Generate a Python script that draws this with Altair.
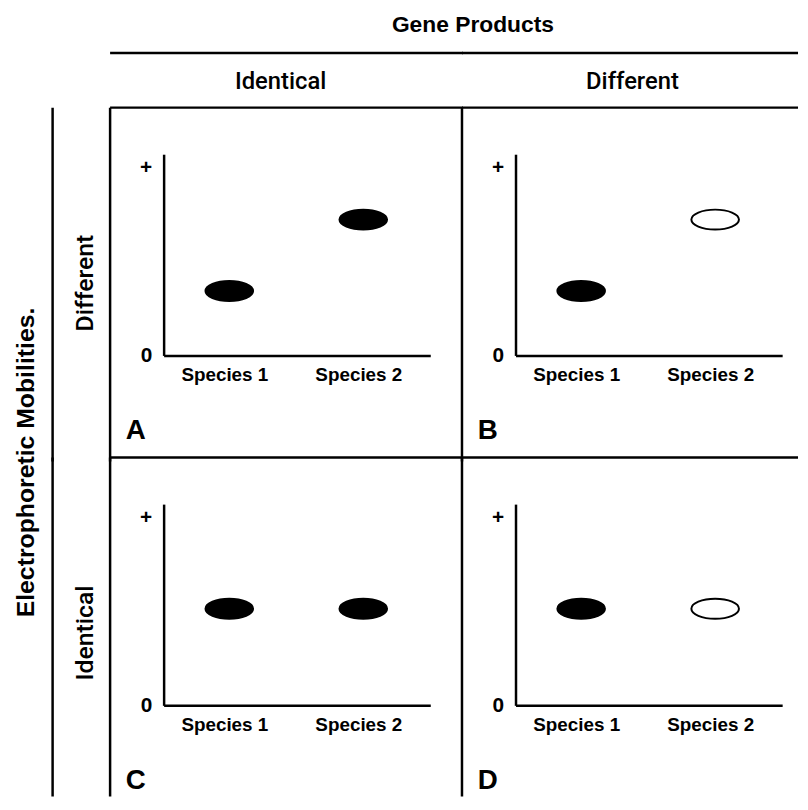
import altair as alt
import pandas as pd

# ---- data ----
panels = ["A", "A", "B", "B", "C", "C", "D", "D"]
mobility = ["Different", "Different", "Different", "Different",
            "Identical", "Identical", "Identical", "Identical"]
product = ["Identical", "Identical", "Different", "Different",
           "Identical", "Identical", "Different", "Different"]
species = [1, 2, 1, 2, 1, 2, 1, 2]
position = [0.32, 0.675, 0.32, 0.675, 0.48, 0.48, 0.48, 0.48]
band = ["filled", "filled", "filled", "open", "filled", "filled", "filled", "open"]

row_order = ["Different", "Identical"]
col_order = ["Identical", "Different"]
x_ticks = [1, 2]
y_ticks = [0, 0.935]
column_title = "Gene Products"
row_title = "Electrophoretic Mobilities."

df = pd.DataFrame({
    "panel": panels, "mobility": mobility, "product": product,
    "species": species, "position": position, "band": band,
})

FONT = "Liberation Sans, Arial, sans-serif"
HFONT = "Roboto, Liberation Sans, sans-serif"
W, H = 269, 203
LW = 2.5
ELLIPSE = ("M-1,0C-1,-0.232,-0.552,-0.42,0,-0.42C0.552,-0.42,1,-0.232,1,0"
           "C1,0.232,0.552,0.42,0,0.42C-0.552,0.42,-1,0.232,-1,0Z")

x_enc = alt.X("species:Q", scale=alt.Scale(domain=[0.51, 2.5]),
              axis=alt.Axis(values=x_ticks, labelExpr="'Species ' + datum.value",
                            title=None, grid=False, ticks=False, tickSize=0,
                            domainColor="black", domainWidth=LW,
                            labelFont=FONT, labelFontSize=19, labelFontWeight="bold",
                            labelColor="black", labelPadding=10, labelOffset=-5,
                            labelFlush=False, labelOverlap=False))
y_enc = alt.Y("position:Q", scale=alt.Scale(domain=[0, 1]),
              axis=alt.Axis(values=y_ticks, labelExpr="datum.value > 0.5 ? '+' : '0'",
                            title=None, grid=False, ticks=False, tickSize=0,
                            domainColor="black", domainWidth=LW,
                            labelFont=FONT, labelFontSize=21, labelFontWeight="bold",
                            labelColor="black", labelPadding=12, labelOverlap=False))

bands = alt.Chart().mark_point(shape=ELLIPSE, size=2304, filled=True, opacity=1,
                               stroke="black", strokeWidth=2).encode(
    x=x_enc, y=y_enc,
    fill=alt.Fill("band:N", scale=alt.Scale(domain=["filled", "open"], range=["black", "white"]),
                  legend=None),
)

def vrule(x, y1, y2, filt):
    return alt.Chart().transform_filter(filt).mark_rule(color="black", strokeWidth=LW).encode(
        x=alt.value(x), y=alt.value(y1), y2=alt.value(y2))

def hrule(y, x1, x2, filt):
    return alt.Chart().transform_filter(filt).mark_rule(color="black", strokeWidth=LW).encode(
        y=alt.value(y), x=alt.value(x1), x2=alt.value(x2))

one = "datum.species == 1"
r1 = one + " && datum.mobility == 'Different'"
r2 = one + " && datum.mobility == 'Identical'"
c1 = one + " && datum.product == 'Identical'"
c2 = one + " && datum.product == 'Different'"

rules = [
    vrule(-54, -47, 310, r1),
    vrule(-54, -47, 295, r2),
    vrule(-112, -47, 310, r1 + " && datum.product == 'Identical'"),
    vrule(-112, -47, 295, r2 + " && datum.product == 'Identical'"),
    hrule(-47, -54, 302, c1),
    hrule(-47, -54, 285, c2),
    hrule(-102, -54, 302, c1 + " && datum.mobility == 'Different'"),
    hrule(-102, -54, 285, c2 + " && datum.mobility == 'Different'"),
]

letters = alt.Chart().transform_filter(one).mark_text(
    font=FONT, fontSize=28, fontWeight="bold", color="black", align="center", baseline="middle"
).encode(text="panel:N", x=alt.value(-28), y=alt.value(279))

col_labels = alt.Chart().transform_filter(r1).mark_text(
    font=HFONT, fontSize=24, fontWeight=500, color="black", align="center", baseline="middle"
).encode(text="product:N", x=alt.value(118), y=alt.value(-73))

row_labels = alt.Chart().transform_filter(c1).mark_text(
    font=HFONT, fontSize=25, fontWeight=500, color="black", align="center", baseline="middle",
    angle=270
).encode(text="mobility:N", x=alt.value(-79), y=alt.value(130))

title_top = alt.Chart().transform_filter("datum.species == 1 && datum.panel == 'A'").mark_text(
    text=column_title, font=FONT, fontSize=23, fontWeight="bold", color="black",
    align="center", baseline="middle"
).encode(x=alt.value(312), y=alt.value(-130))

title_left = alt.Chart().transform_filter("datum.species == 1 && datum.panel == 'A'").mark_text(
    text=row_title, font=FONT, fontSize=25, fontWeight="bold", color="black",
    align="center", baseline="middle", angle=270
).encode(x=alt.value(-139), y=alt.value(311))

cell = alt.layer(*rules, bands, letters, col_labels, row_labels, title_top, title_left).properties(
    width=W, height=H)

chart = cell.facet(
    data=df,
    row=alt.Row("mobility:N", sort=row_order, header=None),
    column=alt.Column("product:N", sort=col_order, header=None),
    spacing={"row": 150, "column": 86},
    bounds="flush",
    padding={"left": 5, "top": 2, "right": 0, "bottom": 0},
).resolve_axis(x="independent", y="independent").configure_view(stroke="transparent")

chart.save("out.html", embed_options={"renderer": "svg", "actions": False})
